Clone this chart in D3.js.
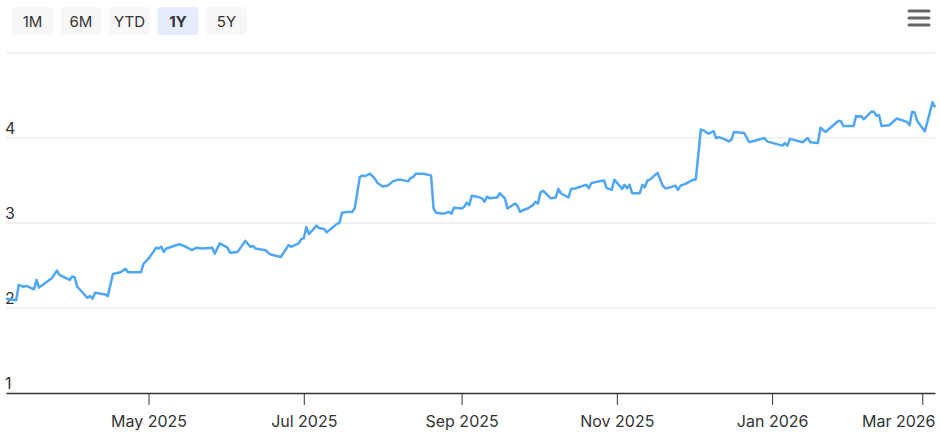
<!DOCTYPE html>
<html>
<head>
<meta charset="utf-8">
<script src="https://cdn.jsdelivr.net/npm/d3@7"></script>
<style>
  body { margin: 0; background: #fff; font-family: Inter, "DejaVu Sans", sans-serif; }
</style>
</head>
<body>
<div class="chart"></div>
<script>
// ranges shown as buttons
const ranges = ["1M", "6M", "YTD", "1Y", "5Y"];
const activeRange = "1Y";

// y axis ticks
const yTicks = [1, 2, 3, 4, 5];
const yLabels = ["1", "2", "3", "4"];

// x axis ticks
const xTicks = ["2025-05-01", "2025-07-01", "2025-09-01", "2025-11-01", "2026-01-01", "2026-03-01"];

// price series
const dates = [
  "2025-03-06","2025-03-10","2025-03-11","2025-03-13","2025-03-14","2025-03-17","2025-03-18","2025-03-19",
  "2025-03-23","2025-03-24","2025-03-26","2025-03-27","2025-03-31","2025-04-01","2025-04-02","2025-04-03",
  "2025-04-07","2025-04-08","2025-04-09","2025-04-10","2025-04-14","2025-04-15","2025-04-17","2025-04-20",
  "2025-04-22","2025-04-23","2025-04-28","2025-04-29","2025-05-01","2025-05-04","2025-05-05","2025-05-06",
  "2025-05-07","2025-05-08","2025-05-13","2025-05-15","2025-05-18","2025-05-20","2025-05-22","2025-05-26",
  "2025-05-27","2025-05-29","2025-06-01","2025-06-02","2025-06-05","2025-06-08","2025-06-10","2025-06-11",
  "2025-06-12","2025-06-16","2025-06-17","2025-06-18","2025-06-22","2025-06-25","2025-06-26","2025-06-29",
  "2025-06-30","2025-07-01","2025-07-02","2025-07-03","2025-07-06","2025-07-07","2025-07-09","2025-07-10",
  "2025-07-14","2025-07-15","2025-07-16","2025-07-18","2025-07-20","2025-07-21","2025-07-23","2025-07-24",
  "2025-07-25","2025-07-27","2025-07-29","2025-07-30","2025-08-01","2025-08-03","2025-08-05","2025-08-07",
  "2025-08-08","2025-08-11","2025-08-12","2025-08-13","2025-08-14","2025-08-15","2025-08-17","2025-08-20",
  "2025-08-21","2025-08-22","2025-08-25","2025-08-27","2025-08-28","2025-08-29","2025-09-01","2025-09-02",
  "2025-09-03","2025-09-04","2025-09-05","2025-09-07","2025-09-09","2025-09-10","2025-09-11","2025-09-12",
  "2025-09-15","2025-09-16","2025-09-18","2025-09-19","2025-09-22","2025-09-23","2025-09-24","2025-09-25",
  "2025-09-27","2025-09-29","2025-09-30","2025-10-01","2025-10-02","2025-10-03","2025-10-06","2025-10-08",
  "2025-10-09","2025-10-10","2025-10-13","2025-10-14","2025-10-16","2025-10-20","2025-10-21","2025-10-22",
  "2025-10-25","2025-10-27","2025-10-28","2025-10-30","2025-10-31","2025-11-02","2025-11-03","2025-11-04",
  "2025-11-05","2025-11-06","2025-11-07","2025-11-10","2025-11-11","2025-11-12","2025-11-13","2025-11-14",
  "2025-11-17","2025-11-19","2025-11-20","2025-11-21","2025-11-24","2025-11-25","2025-11-26","2025-11-28",
  "2025-12-01","2025-12-02","2025-12-04","2025-12-05","2025-12-07","2025-12-09","2025-12-10","2025-12-11",
  "2025-12-13","2025-12-15","2025-12-16","2025-12-17","2025-12-21","2025-12-23","2025-12-29","2025-12-30",
  "2026-01-05","2026-01-06","2026-01-07","2026-01-08","2026-01-13","2026-01-15","2026-01-16","2026-01-19",
  "2026-01-20","2026-01-22","2026-01-27","2026-01-28","2026-01-29","2026-02-02","2026-02-03","2026-02-04",
  "2026-02-05","2026-02-06","2026-02-09","2026-02-10","2026-02-11","2026-02-12","2026-02-13","2026-02-16",
  "2026-02-19","2026-02-23","2026-02-24","2026-02-25","2026-02-26","2026-02-27","2026-03-02","2026-03-03",
  "2026-03-05","2026-03-06"
];
const prices = [
  2.11,2.09,2.27,2.25,2.26,2.22,2.33,2.24,
  2.33,2.35,2.44,2.39,2.33,2.37,2.36,2.25,
  2.12,2.14,2.11,2.18,2.16,2.14,2.40,2.42,
  2.46,2.42,2.42,2.52,2.58,2.71,2.70,2.72,
  2.66,2.70,2.75,2.73,2.68,2.71,2.70,2.71,
  2.64,2.76,2.71,2.65,2.66,2.79,2.72,2.73,
  2.70,2.68,2.65,2.63,2.60,2.74,2.72,2.76,
  2.81,2.82,2.95,2.87,2.97,2.94,2.93,2.89,
  2.99,3.00,3.12,3.13,3.13,3.17,3.54,3.56,
  3.55,3.58,3.52,3.47,3.43,3.44,3.49,3.51,
  3.51,3.49,3.53,3.54,3.58,3.58,3.58,3.56,
  3.17,3.12,3.11,3.13,3.11,3.18,3.17,3.19,
  3.24,3.21,3.32,3.31,3.29,3.25,3.31,3.29,
  3.30,3.35,3.29,3.17,3.23,3.20,3.13,3.15,
  3.17,3.21,3.25,3.23,3.36,3.38,3.29,3.30,
  3.40,3.35,3.30,3.40,3.41,3.45,3.41,3.47,
  3.49,3.50,3.41,3.39,3.51,3.44,3.40,3.45,
  3.41,3.45,3.35,3.35,3.45,3.42,3.50,3.51,
  3.59,3.44,3.41,3.41,3.44,3.39,3.44,3.46,
  3.51,3.51,4.10,4.09,4.05,4.08,4.00,4.01,
  3.99,3.96,3.98,4.07,4.06,3.95,4.00,3.96,
  3.91,3.94,3.91,3.99,3.95,4.00,3.95,3.94,
  4.12,4.07,4.20,4.20,4.14,4.14,4.26,4.25,
  4.26,4.22,4.31,4.31,4.26,4.27,4.14,4.15,
  4.23,4.19,4.15,4.31,4.30,4.20,4.08,4.19,
  4.42,4.36
];

const W = 940, H = 438;
const plotLeft = 6, plotRight = 935, plotTop = 53, plotBottom = 393;
const parse = d3.timeParse("%Y-%m-%d");
const data = dates.map((d, i) => ({ date: parse(d), value: prices[i] }));

const svg = d3.select(".chart")
    .append("svg")
    .attr("width", W)
    .attr("height", H)
    .style("display", "block");

const x = d3.scaleTime()
    .domain([parse("2025-03-06"), parse("2026-03-06")])
    .range([plotLeft, plotRight]);

const y = d3.scaleLinear()
    .domain([1, 5])
    .range([plotBottom, plotTop]);

// buttons
const btn = svg.append("g").selectAll("g")
    .data(ranges)
    .enter()
    .append("g")
    .attr("transform", (d, i) => "translate(" + (12 + i * 48.5) + ",7)");
btn.append("rect")
    .attr("width", 41)
    .attr("height", 28)
    .attr("rx", 3)
    .attr("fill", d => d === activeRange ? "#e6ebfd" : "#f7f7f7");
btn.append("text")
    .attr("x", 20.5)
    .attr("y", 19.5)
    .attr("text-anchor", "middle")
    .attr("font-size", 15)
    .attr("font-weight", d => d === activeRange ? "bold" : "normal")
    .attr("fill", "#333")
    .text(d => d);

// menu icon
svg.append("g").selectAll("line")
    .data([11, 18, 25])
    .enter()
    .append("line")
    .attr("x1", 909)
    .attr("x2", 929)
    .attr("y1", d => d)
    .attr("y2", d => d)
    .attr("stroke", "#666")
    .attr("stroke-width", 3)
    .attr("stroke-linecap", "round");

// gridlines
svg.append("g").selectAll("line")
    .data(yTicks.slice(1))
    .enter()
    .append("line")
    .attr("x1", plotLeft)
    .attr("x2", plotRight)
    .attr("y1", d => y(d))
    .attr("y2", d => y(d))
    .attr("stroke", "#e6e6e6")
    .attr("stroke-width", 1);

// y labels
svg.append("g").selectAll("text")
    .data(yLabels)
    .enter()
    .append("text")
    .attr("x", 5)
    .attr("y", d => y(+d) - 4)
    .attr("font-size", 16)
    .attr("fill", "#333")
    .text(d => d);

// x axis
const xAxis = svg.append("g")
    .attr("transform", "translate(0," + plotBottom + ")")
    .call(d3.axisBottom(x)
        .tickValues(xTicks.map(parse))
        .tickFormat(d3.timeFormat("%b %Y"))
        .tickSize(12)
        .tickSizeOuter(0));
xAxis.select(".domain").attr("stroke", "#333").attr("stroke-width", 1.5);
xAxis.selectAll(".tick line").attr("stroke", "#333");
xAxis.selectAll(".tick text")
    .attr("font-size", 16)
    .attr("font-family", "Inter, sans-serif")
    .attr("fill", "#333")
    .attr("dy", "1.2em");

// last label is pushed in so it stays inside the chart
const lastTick = parse(xTicks[xTicks.length - 1]);
xAxis.selectAll(".tick")
    .filter(d => +d === +lastTick)
    .select("text")
    .attr("text-anchor", "end")
    .attr("x", plotRight - x(lastTick));

// price line
svg.append("path")
    .datum(data)
    .attr("fill", "none")
    .attr("stroke", "#4fa7f4")
    .attr("stroke-width", 2.5)
    .attr("stroke-linejoin", "round")
    .attr("d", d3.line().x(d => x(d.date)).y(d => y(d.value)));
</script>
</body>
</html>
